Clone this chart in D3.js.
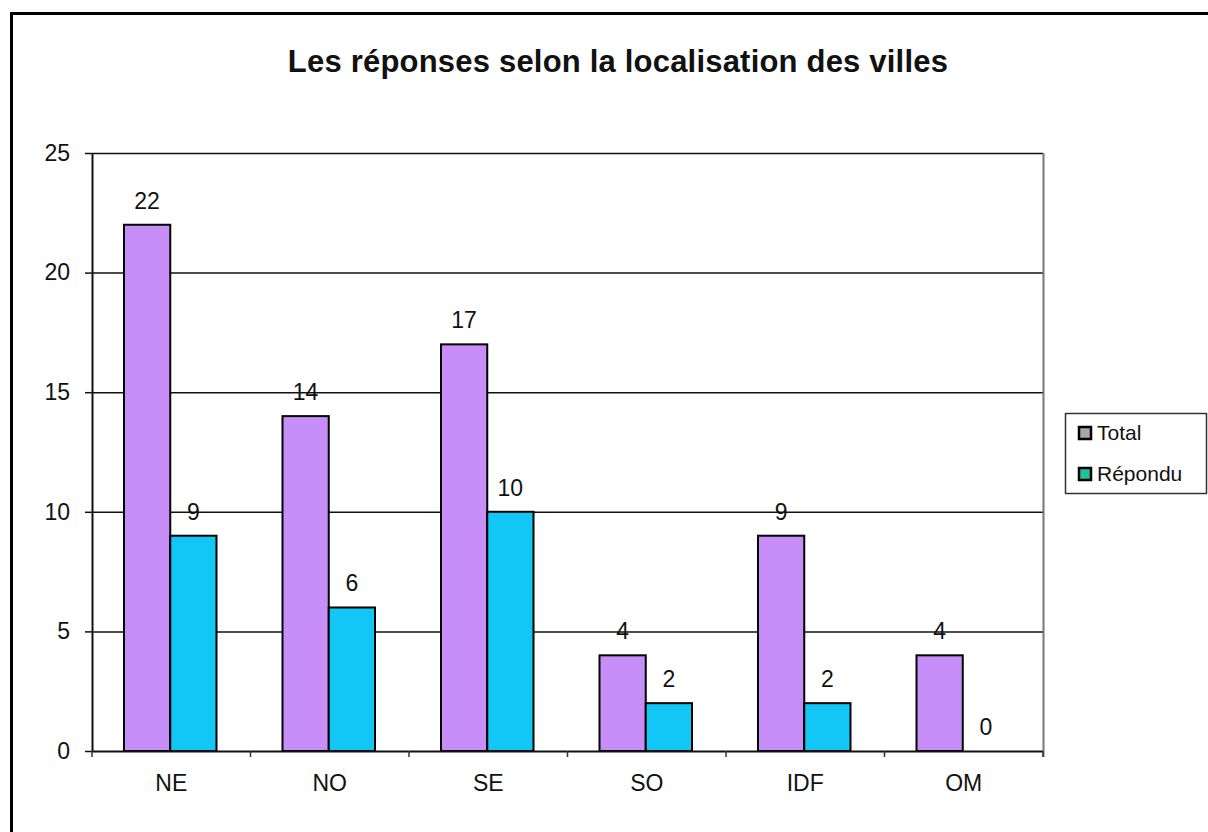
<!DOCTYPE html>
<html>
<head>
<meta charset="utf-8">
<script src="https://cdn.jsdelivr.net/npm/d3@7"></script>
<style>
  body { margin: 0; background: #fff; }
  text { font-family: Arial, "Liberation Sans", sans-serif; fill: #111; }
</style>
</head>
<body>
<div id="chart"></div>
<script>
const categories = ["NE", "NO", "SE", "SO", "IDF", "OM"];
const seriesNames = ["Total", "Répondu"];
const totalValues = [22, 14, 17, 4, 9, 4];
const reponduValues = [9, 6, 10, 2, 2, 0];
const yTicks = [0, 5, 10, 15, 20, 25];
const title = "Les réponses selon la localisation des villes";

const barColors = ["#c78ef7", "#12c6f6"];
const legendColors = ["#a9a4ab", "#1fc296"];

const W = 1208, H = 832;
const plotL = 92, plotR = 1043, plotT = 153, plotB = 751;
const fontFam = "Arial, 'Liberation Sans', sans-serif";

const svg = d3.select("#chart").append("svg")
  .attr("width", W).attr("height", H);

// outer frame
svg.append("rect")
  .attr("x", 11.5).attr("y", 13.5)
  .attr("width", W + 20).attr("height", H + 20)
  .attr("fill", "#fff").attr("stroke", "#000").attr("stroke-width", 3);

svg.append("text")
  .attr("x", 618).attr("y", 72)
  .attr("text-anchor", "middle")
  .style("font-size", "31px").style("font-weight", "bold")
  .style("letter-spacing", "0.2px")
  .text(title);

const x0 = d3.scaleBand().domain(categories).range([plotL, plotR]).paddingInner(0).paddingOuter(0);
const x1 = d3.scaleBand().domain(seriesNames).range([32, x0.bandwidth() - 34]);
const y = d3.scaleLinear().domain([0, 25]).range([plotB, plotT]);

// gridlines
svg.append("g")
  .selectAll("line")
  .data(yTicks.filter(d => d > 0))
  .enter().append("line")
  .attr("x1", plotL).attr("x2", plotR)
  .attr("y1", d => y(d) + 0.5).attr("y2", d => y(d) + 0.5)
  .attr("stroke", "#111").attr("stroke-width", 1.5);

// right border of plot
svg.append("line")
  .attr("x1", plotR + 0.5).attr("x2", plotR + 0.5)
  .attr("y1", plotT).attr("y2", plotB + 6)
  .attr("stroke", "#777").attr("stroke-width", 2);

const rows = categories.map((c, i) => ({ cat: c, values: [totalValues[i], reponduValues[i]] }));

const groups = svg.append("g").selectAll("g")
  .data(rows).enter().append("g")
  .attr("transform", d => `translate(${x0(d.cat)},0)`);

groups.selectAll("rect")
  .data(d => d.values.map((v, k) => ({ key: seriesNames[k], v, k })))
  .enter().append("rect")
  .attr("x", d => x1(d.key))
  .attr("width", x1.bandwidth())
  .attr("y", d => y(d.v))
  .attr("height", d => y(0) - y(d.v))
  .attr("fill", d => barColors[d.k])
  .attr("stroke", "#000").attr("stroke-width", 2)
  .style("display", d => d.v === 0 ? "none" : null);

groups.selectAll("text")
  .data(d => d.values.map((v, k) => ({ key: seriesNames[k], v, k })))
  .enter().append("text")
  .attr("x", d => x1(d.key) + x1.bandwidth() / 2)
  .attr("y", d => y(d.v) - 16)
  .attr("text-anchor", "middle")
  .style("font-size", "23px")
  .text(d => d.v);

// y axis
const yAxis = svg.append("g")
  .attr("transform", `translate(${plotL},0)`)
  .call(d3.axisLeft(y).tickValues(yTicks).tickSize(7).tickPadding(15));
yAxis.select(".domain").attr("stroke", "#111").attr("stroke-width", 2).attr("d", `M0.5,${plotT}V${plotB}`);
yAxis.selectAll(".tick line").attr("stroke", "#111").attr("stroke-width", 1.5);
yAxis.selectAll(".tick text").style("font-size", "23px").style("font-family", fontFam).attr("fill", "#111");

// x axis
const xAxis = svg.append("g")
  .attr("transform", `translate(0,${plotB})`)
  .call(d3.axisBottom(x0).tickSize(0).tickPadding(24));
xAxis.select(".domain").attr("stroke", "#111").attr("stroke-width", 2).attr("d", `M${plotL},0.5H${plotR}`);
xAxis.selectAll(".tick text").style("font-size", "23px").style("font-family", fontFam).attr("fill", "#111");

// category boundary ticks
svg.append("g").selectAll("line")
  .data(categories.slice(1).concat(["end"]))
  .enter().append("line")
  .attr("x1", d => d === "end" ? plotR : x0(d))
  .attr("x2", d => d === "end" ? plotR : x0(d))
  .attr("y1", plotB).attr("y2", plotB + 6)
  .attr("stroke", "#333").attr("stroke-width", 1.5);
svg.append("line")
  .attr("x1", plotL).attr("x2", plotL).attr("y1", plotB).attr("y2", plotB + 6)
  .attr("stroke", "#333").attr("stroke-width", 1.5);

// legend
const legend = svg.append("g").attr("transform", "translate(1065,413)");
legend.append("rect")
  .attr("x", 0.5).attr("y", 0.5).attr("width", 141).attr("height", 80)
  .attr("fill", "#fff").attr("stroke", "#333").attr("stroke-width", 1.5);
const items = legend.selectAll("g.item")
  .data(seriesNames).enter().append("g")
  .attr("class", "item")
  .attr("transform", (d, i) => `translate(14,${20 + i * 41})`);
items.append("rect")
  .attr("x", 0).attr("y", -6).attr("width", 12).attr("height", 12)
  .attr("fill", (d, i) => legendColors[i])
  .attr("stroke", "#000").attr("stroke-width", 2.5);
items.append("text")
  .attr("x", 18).attr("y", 7)
  .style("font-size", "21px")
  .text(d => d);
</script>
</body>
</html>
